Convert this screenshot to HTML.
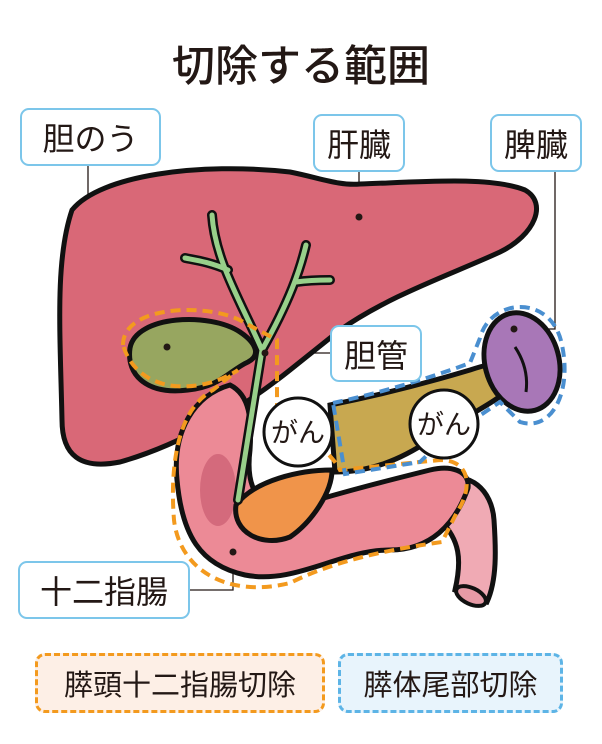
<!DOCTYPE html>
<html><head><meta charset="utf-8"><style>
html,body{margin:0;padding:0;background:#fff;}
body{width:602px;height:744px;overflow:hidden;position:relative;font-family:"Liberation Sans","Noto Sans CJK JP",sans-serif;color:#231815;}
.t{position:absolute;left:0;width:602px;top:32px;text-align:center;font-size:43px;font-weight:500;}
.lb{position:absolute;background:#fff;border:2px solid #7cc6ea;border-radius:9px;font-size:32px;display:flex;align-items:center;justify-content:center;box-sizing:border-box;}
.bx{position:absolute;border:3px dashed;border-radius:10px;font-size:29px;display:flex;align-items:center;justify-content:center;box-sizing:border-box;}
svg{position:absolute;left:0;top:0;}
</style></head><body>
<div class="t">切除する範囲</div>
<svg width="602" height="744" viewBox="0 0 602 744">
<g stroke="#231815" stroke-width="1.3" fill="none">
<path d="M88 166 V347 H167"/><path d="M359 172 V217"/><path d="M555 172 V329 H514"/><path d="M330 353 H265"/><path d="M190 590 H233 V552"/>
</g>
<path d="M72 210 C100 175 200 162 290 172 C320 178 340 186 360 184 C420 182 490 176 525 190 C548 203 535 235 500 252 C450 275 390 295 340 330 L290 370 C240 410 180 445 120 462 C80 470 62 455 62 420 C60 330 55 260 72 210 Z" fill="#d96877" stroke="#111" stroke-width="5"/>
<path d="M440 480 C470 470 492 490 494 520 C496 550 497 580 487 602 L455 590 C462 560 460 540 440 520 Z" fill="#f0aab4" stroke="#111" stroke-width="5"/>
<ellipse cx="471" cy="596" rx="16" ry="8" transform="rotate(25 471 596)" fill="#e69aa6" stroke="#111" stroke-width="4"/>
<path d="M230 385 C195 395 172 430 177 480 C182 535 200 565 245 575 C295 585 340 550 390 550 C430 550 455 525 468 488 C470 470 450 465 430 470 C390 480 350 490 300 505 C260 515 245 490 250 450 C252 420 250 395 230 385 Z" fill="#ec8a96" stroke="#111" stroke-width="5"/>
<ellipse cx="218" cy="490" rx="18" ry="36" fill="#d46a7c"/>
<path d="M330 405 C380 395 420 385 470 370 C500 360 522 358 515 380 C505 400 470 412 430 440 C400 460 370 472 335 472 Z" fill="#c8a850" stroke="#111" stroke-width="5"/>
<path d="M236 505 C255 480 300 470 332 470 C332 492 312 522 290 537 C262 548 232 532 236 505 Z" fill="#f0944a" stroke="#111" stroke-width="5"/>
<ellipse cx="522" cy="362" rx="37" ry="50" transform="rotate(-15 522 362)" fill="#a877b7" stroke="#111" stroke-width="5"/>
<path d="M515 347 C525 362 528 377 526 392" stroke="#111" stroke-width="3" fill="none"/>
<path d="M130 348 C136 315 210 312 240 332 C255 342 262 355 248 362 C230 370 220 387 188 390 C148 395 126 376 130 348 Z" fill="#97a660" stroke="#111" stroke-width="5"/>
<g fill="none" stroke-linecap="round" stroke-linejoin="round">
<path d="M238 500 L262 350 M262 350 C240 300 215 260 212 215 M228 270 C210 262 195 260 185 258 M262 350 C290 300 300 270 306 245 M296 282 C310 280 320 280 330 280" stroke="#111" stroke-width="10"/>
<path d="M238 500 L262 350 M262 350 C240 300 215 260 212 215 M228 270 C210 262 195 260 185 258 M262 350 C290 300 300 270 306 245 M296 282 C310 280 320 280 330 280" stroke="#98d08a" stroke-width="5"/>
</g>
<path d="M123 345 C123 303 215 303 245 323 L277 340 L277 420 C300 430 330 450 340 470 L440 460 C472 460 472 490 457 512 L442 542 C400 548 340 558 290 583 C230 598 180 572 174 520 C170 470 176 410 213 390 L238 370 C200 395 138 395 123 345 Z" fill="none" stroke="#f39a1e" stroke-width="4" stroke-dasharray="10 6"/>
<path d="M333 403 C380 393 430 378 470 363 L480 338 C490 298 552 293 562 345 C572 392 552 432 520 422 L500 402 C470 422 440 442 420 462 L345 474 Z" fill="none" stroke="#4a8fd0" stroke-width="4" stroke-dasharray="10 6"/>
<g fill="#231815"><circle cx="167" cy="347" r="3.5"/><circle cx="359" cy="217" r="3.5"/><circle cx="514" cy="329" r="3.5"/><circle cx="265" cy="353" r="3.5"/><circle cx="233" cy="552" r="3.5"/></g>
<circle cx="298" cy="432" r="34" fill="#fff" stroke="#111" stroke-width="3"/>
<circle cx="444" cy="424" r="34" fill="#fff" stroke="#111" stroke-width="3"/>
<text x="298" y="442" font-size="27" text-anchor="middle" font-family="Liberation Sans, Noto Sans CJK JP, sans-serif" fill="#231815">がん</text>
<text x="444" y="434" font-size="27" text-anchor="middle" font-family="Liberation Sans, Noto Sans CJK JP, sans-serif" fill="#231815">がん</text>
</svg>
<div class="lb" style="left:20px;top:108px;width:141px;height:58px;">胆のう</div>
<div class="lb" style="left:313px;top:114px;width:92px;height:58px;">肝臓</div>
<div class="lb" style="left:490px;top:114px;width:92px;height:58px;">脾臓</div>
<div class="lb" style="left:330px;top:325px;width:92px;height:57px;">胆管</div>
<div class="lb" style="left:18px;top:561px;width:172px;height:58px;">十二指腸</div>
<div class="bx" style="left:35px;top:653px;width:290px;height:60px;border-color:#f39a1e;background:#fdefe6;">膵頭十二指腸切除</div>
<div class="bx" style="left:338px;top:653px;width:225px;height:60px;border-color:#5db4e6;background:#e8f4fc;">膵体尾部切除</div>
</body></html>
